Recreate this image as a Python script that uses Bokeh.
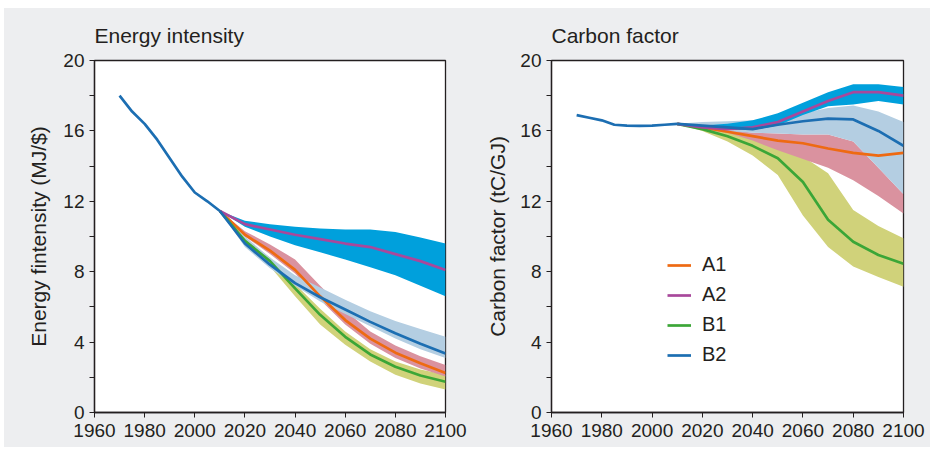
from bokeh.plotting import figure
from bokeh.layouts import row
from bokeh.models import Range1d, FixedTicker, Legend, LegendItem
from bokeh.embed import file_html
from bokeh.resources import INLINE

# ---------------- data ----------------
hist_years = [1970, 1975, 1980, 1985, 1990, 1995, 2000, 2005, 2010]
scen_years = [2010, 2020, 2030, 2040, 2050, 2060, 2070, 2080, 2090, 2100]

# Energy intensity (MJ/$)
ei_hist = [18.0, 17.1, 16.4, 15.5, 14.45, 13.4, 12.5, 12.0, 11.45]
ei_a1 = [11.45, 10.1, 9.2, 8.1, 6.6, 5.25, 4.2, 3.4, 2.8, 2.25]
ei_a1_up = [11.45, 10.3, 9.55, 8.7, 7.2, 5.8, 4.6, 3.8, 3.2, 2.7]
ei_a1_lo = [11.45, 10.0, 9.0, 7.9, 6.4, 5.0, 3.9, 3.1, 2.5, 2.05]
ei_a2 = [11.45, 10.7, 10.4, 10.1, 9.85, 9.6, 9.4, 9.0, 8.6, 8.1]
ei_a2_up = [11.45, 10.9, 10.7, 10.55, 10.45, 10.4, 10.4, 10.25, 9.95, 9.6]
ei_a2_lo = [11.45, 10.55, 10.0, 9.5, 9.1, 8.7, 8.25, 7.8, 7.2, 6.6]
ei_b1 = [11.45, 9.75, 8.6, 7.05, 5.55, 4.3, 3.3, 2.6, 2.1, 1.75]
ei_b1_up = [11.45, 9.85, 8.8, 7.3, 5.9, 4.6, 3.6, 2.9, 2.45, 2.15]
ei_b1_lo = [11.45, 9.5, 8.3, 6.6, 5.0, 3.85, 2.9, 2.15, 1.65, 1.3]
ei_b2 = [11.45, 9.6, 8.4, 7.35, 6.55, 5.85, 5.15, 4.5, 3.9, 3.35]
ei_b2_up = [11.45, 10.0, 8.8, 7.8, 7.1, 6.4, 5.75, 5.2, 4.75, 4.3]
ei_b2_lo = [11.45, 9.4, 8.2, 7.2, 6.3, 5.6, 4.9, 4.2, 3.6, 3.1]

# Carbon factor (tC/GJ)
cf_hist = [16.9, 16.75, 16.6, 16.35, 16.3, 16.28, 16.3, 16.35, 16.4]
cf_a1 = [16.4, 16.2, 15.95, 15.7, 15.45, 15.3, 15.0, 14.75, 14.6, 14.75]
cf_a1_up = [16.4, 16.25, 16.1, 15.9, 15.85, 15.8, 15.8, 15.4, 13.9, 12.4]
cf_a1_lo = [16.4, 16.1, 15.9, 15.45, 14.9, 14.4, 13.9, 13.2, 12.3, 11.3]
cf_a2 = [16.4, 16.2, 16.1, 16.2, 16.5, 17.1, 17.7, 18.2, 18.2, 18.0]
cf_a2_up = [16.4, 16.3, 16.4, 16.6, 17.0, 17.6, 18.2, 18.65, 18.65, 18.5]
cf_a2_lo = [16.4, 16.15, 16.05, 16.05, 16.3, 16.9, 17.4, 17.5, 17.7, 17.5]
cf_b1 = [16.4, 16.1, 15.7, 15.15, 14.45, 13.1, 10.95, 9.7, 8.95, 8.45]
cf_b1_up = [16.4, 16.2, 16.0, 15.55, 15.1, 14.55, 13.6, 11.5, 10.6, 9.9]
cf_b1_lo = [16.4, 16.0, 15.4, 14.6, 13.5, 11.2, 9.4, 8.3, 7.7, 7.15]
cf_b2 = [16.4, 16.3, 16.2, 16.1, 16.35, 16.55, 16.7, 16.65, 16.0, 15.15]
cf_b2_up = [16.4, 16.5, 16.55, 16.6, 16.8, 17.0, 17.3, 17.45, 17.1, 16.5]
cf_b2_lo = [16.4, 16.1, 16.0, 15.9, 15.85, 15.8, 15.8, 15.4, 13.9, 12.4]

series_names = ["A1", "A2", "B1", "B2"]
x_ticks = [1960, 1980, 2000, 2020, 2040, 2060, 2080, 2100]
y_ticks = [0, 4, 8, 12, 16, 20]
y_minor = [2, 6, 10, 14, 18]

# ---------------- style ----------------
FONT = "Liberation Sans"
TXT = "#231f20"
BG = "#edeef0"
LINE_COL = {"A1": "#ee6a12", "A2": "#a8489b", "B1": "#3ba637", "B2": "#1c6eb2"}
BAND_COL = {"A1": "#da929f", "A2": "#00a0dc", "B1": "#d0d27a", "B2": "#b4cee2"}


def make_fig(title, ylabel, fw, ml, mr, lab_standoff):
    p = figure(frame_width=fw, frame_height=352,
               x_range=Range1d(1960, 2100), y_range=Range1d(0, 20),
               output_backend="svg", toolbar_location=None,
               min_border_left=ml, min_border_right=mr,
               min_border_top=51, min_border_bottom=35,
               background_fill_color="white", border_fill_color=BG,
               outline_line_color=TXT, outline_line_width=1.3)
    p.title.text = title
    p.title.align = "left"
    p.title.text_font = FONT
    p.title.text_font_size = "21px"
    p.title.text_font_style = "normal"
    p.title.text_color = TXT
    p.title.standoff = 27
    p.grid.visible = False
    p.xaxis.ticker = FixedTicker(ticks=x_ticks)
    p.yaxis.ticker = FixedTicker(ticks=y_ticks, minor_ticks=y_minor)
    p.yaxis.axis_label = ylabel
    for ax in (p.xaxis[0], p.yaxis[0]):
        ax.axis_line_color = TXT
        ax.axis_line_width = 1.3
        ax.major_tick_line_color = TXT
        ax.minor_tick_line_color = TXT
        ax.major_tick_in = 0
        ax.major_tick_out = 5
        ax.minor_tick_in = 0
        ax.minor_tick_out = 5
        ax.major_label_text_font = FONT
        ax.major_label_text_font_size = "19px"
        ax.major_label_text_color = TXT
        ax.axis_label_text_font = FONT
        ax.axis_label_text_font_size = "21px"
        ax.axis_label_text_font_style = "normal"
        ax.axis_label_text_color = TXT
    p.xaxis.major_label_standoff = 6
    p.yaxis.major_label_standoff = 5
    p.yaxis.axis_label_standoff = lab_standoff
    return p


def draw(p, hist, data):
    # bands (order: B1, A1, B2, A2)
    for k in ["B1", "A1", "B2", "A2"]:
        line, up, lo = data[k]
        p.varea(x=scen_years, y1=lo, y2=up, fill_color=BAND_COL[k], fill_alpha=1.0)
    renderers = {}
    for k in ["A1", "B1", "A2", "B2"]:
        line, up, lo = data[k]
        renderers[k] = p.line(scen_years, line, line_color=LINE_COL[k], line_width=2.7)
    p.line(hist_years, hist, line_color=LINE_COL["B2"], line_width=2.7)
    return renderers


p1 = make_fig("Energy intensity", "Energy fintensity (MJ/$)", 351, 90, 25, 10)
draw(p1, ei_hist, {"A1": (ei_a1, ei_a1_up, ei_a1_lo), "A2": (ei_a2, ei_a2_up, ei_a2_lo),
                   "B1": (ei_b1, ei_b1_up, ei_b1_lo), "B2": (ei_b2, ei_b2_up, ei_b2_lo)})

p2 = make_fig("Carbon factor", "Carbon factor (tC/GJ)", 352, 81, 27, 8)
r2 = draw(p2, cf_hist, {"A1": (cf_a1, cf_a1_up, cf_a1_lo), "A2": (cf_a2, cf_a2_up, cf_a2_lo),
                        "B1": (cf_b1, cf_b1_up, cf_b1_lo), "B2": (cf_b2, cf_b2_up, cf_b2_lo)})

legend = Legend(items=[LegendItem(label=n, renderers=[r2[n]]) for n in series_names],
                location=(116, 46), orientation="vertical",
                border_line_color=None, background_fill_alpha=0.0,
                label_text_font=FONT, label_text_font_size="20px", label_text_color=TXT,
                glyph_width=24, glyph_height=20, label_height=22, spacing=7,
                label_standoff=11, padding=0, margin=0)
p2.add_layout(legend, "center")

layout = row(p1, p2, spacing=0, margin=(8, 10, 8, 4),
             styles={"background-color": BG})
open("out.html", "w").write(file_html(layout, INLINE))
